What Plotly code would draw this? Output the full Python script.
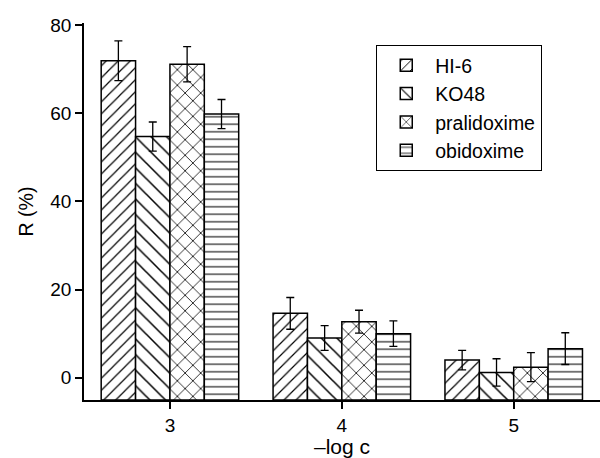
import plotly.graph_objects as go

concentrations = [3, 4, 5]
series_names = ["HI-6", "KO48", "pralidoxime", "obidoxime"]
hi6 = [71.9, 14.6, 4.0]
hi6_err = [4.5, 3.6, 2.2]
ko48 = [54.7, 9.0, 1.2]
ko48_err = [3.3, 2.8, 3.1]
pralidoxime = [71.1, 12.7, 2.4]
pralidoxime_err = [4.0, 2.6, 3.3]
obidoxime = [59.8, 10.0, 6.6]
obidoxime_err = [3.3, 2.9, 3.6]
y_ticks = [0, 20, 40, 60, 80]

values = [hi6, ko48, pralidoxime, obidoxime]
errors = [hi6_err, ko48_err, pralidoxime_err, obidoxime_err]
patterns = [("/", 8.5), ("\\", 11), ("x", 11), ("-", 7.5)]
BASE = -5.05

fig = go.Figure()
for name, vals, errs, (shape, size) in zip(series_names, values, errors, patterns):
    fig.add_trace(go.Bar(
        x=concentrations,
        y=[v - BASE for v in vals],
        base=BASE,
        name=name,
        marker=dict(
            color="white",
            line=dict(color="black", width=1.5),
            pattern=dict(shape=shape, size=size, solidity=0.14,
                         fgcolor="black", bgcolor="white", fillmode="replace"),
        ),
        error_y=dict(type="data", array=errs, visible=True,
                     color="black", thickness=1.3, width=4),
    ))

font = "Liberation Sans, Arial, Helvetica, sans-serif"
fig.update_layout(
    width=600, height=458,
    margin=dict(l=84, r=0, t=23, b=58),
    paper_bgcolor="white", plot_bgcolor="white",
    barmode="group", bargap=0.2, bargroupgap=0,
    font=dict(family=font, size=19, color="black"),
    showlegend=True,
    legend=dict(x=0.566, y=0.942, xanchor="left", yanchor="top",
                bgcolor="white", bordercolor="black", borderwidth=1.2,
                font=dict(size=19.5), tracegroupgap=0, itemwidth=48),
    xaxis=dict(range=[2.5, 5.502], tickvals=concentrations,
               ticktext=[str(c) for c in concentrations],
               showline=True, linecolor="black", linewidth=1.5,
               ticks="outside", ticklen=7, tickwidth=1.5, tickcolor="black",
               showgrid=False, zeroline=False, tickfont=dict(size=19),
               title=dict(text="\u2013log c", standoff=3, font=dict(size=21))),
    yaxis=dict(range=[BASE, 80.45], tickvals=y_ticks,
               showline=True, linecolor="black", linewidth=1.5,
               ticks="outside", ticklen=7, tickwidth=1.5, tickcolor="black",
               showgrid=False, zeroline=False, tickfont=dict(size=19),
               title=dict(text="R (%)", standoff=11, font=dict(size=19.5))),
)

fig.write_html("out.html", config={"displayModeBar": False},
               post_script="document.body.style.margin='0';document.body.style.padding='0';")
